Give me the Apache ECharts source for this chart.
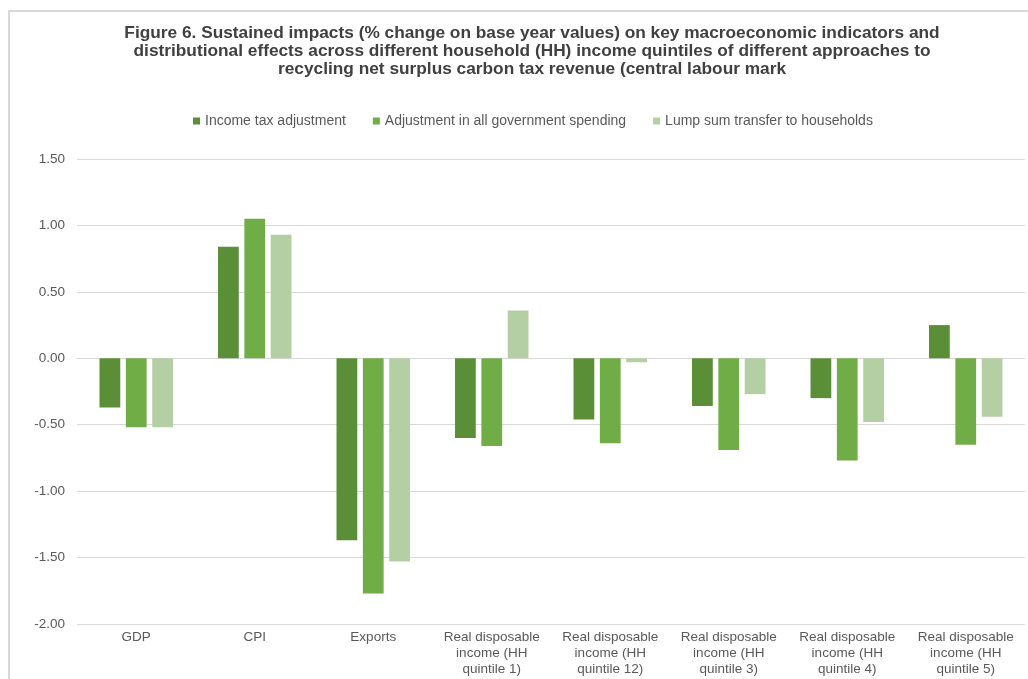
<!DOCTYPE html>
<html><head><meta charset="utf-8">
<script src="https://cdn.jsdelivr.net/npm/echarts@6/dist/echarts.min.js"></script>
<style>html,body{margin:0;padding:0;background:#fff}#c{width:1028px;height:679px}</style>
</head><body><div id="c"></div>
<script>
const categories = ['GDP','CPI','Exports','Real disposable\nincome (HH\nquintile 1)','Real disposable\nincome (HH\nquintile 12)','Real disposable\nincome (HH\nquintile 3)','Real disposable\nincome (HH\nquintile 4)','Real disposable\nincome (HH\nquintile 5)'];
const seriesNames = ['Income tax adjustment','Adjustment in all government spending','Lump sum transfer to households'];
const incomeTax = [-0.37, 0.84, -1.37, -0.60, -0.46, -0.36, -0.30, 0.25];
const govSpending = [-0.52, 1.05, -1.77, -0.66, -0.64, -0.69, -0.77, -0.65];
const lumpSum = [-0.52, 0.93, -1.53, 0.36, -0.03, -0.27, -0.48, -0.44];
const colors = ['#5b8f37','#70ad47','#b5cfa4'];
const titleText = 'Figure 6. Sustained impacts (% change on base year values) on key macroeconomic indicators and\ndistributional effects across different household (HH) income quintiles of different approaches to\nrecycling net surplus carbon tax revenue (central labour mark';
const chart = echarts.init(document.getElementById('c'));
const data = [incomeTax, govSpending, lumpSum];
chart.setOption({
  animation:false,
  graphic:[
    {type:'rect',shape:{x:9,y:11,width:1040,height:700},style:{fill:'none',stroke:'#d9d9d9',lineWidth:2},silent:true},
    {type:'text',x:532,y:24,silent:true,style:{text:titleText,align:'center',verticalAlign:'top',fontFamily:'Liberation Sans, Arial',fontWeight:'bold',fontSize:17.3,lineHeight:18,fill:'#404040'}}
  ],
  legend:{top:109,left:188,itemWidth:7,itemHeight:7,itemGap:27,icon:'rect',textStyle:{fontFamily:'Liberation Sans, Arial',fontSize:14,color:'#595959'},data:seriesNames},
  grid:{left:77,right:3,top:159,bottom:55,containLabel:false},
  xAxis:{type:'category',data:categories,axisTick:{show:false},axisLine:{lineStyle:{color:'#d9d9d9'}},axisLabel:{interval:0,color:'#595959',fontFamily:'Liberation Sans, Arial',fontSize:13.5,lineHeight:16,margin:5}},
  yAxis:{type:'value',min:-2,max:1.5,interval:0.5,axisLabel:{formatter:v=>v.toFixed(2),color:'#595959',fontFamily:'Liberation Sans, Arial',fontSize:13.5,margin:12},splitLine:{lineStyle:{color:'#d9d9d9'}},axisLine:{show:false},axisTick:{show:false}},
  series:seriesNames.map((n,i)=>({name:n,type:'bar',data:data[i],itemStyle:{color:colors[i]},barGap:'27%',barCategoryGap:'38%'}))
});
</script></body></html>
